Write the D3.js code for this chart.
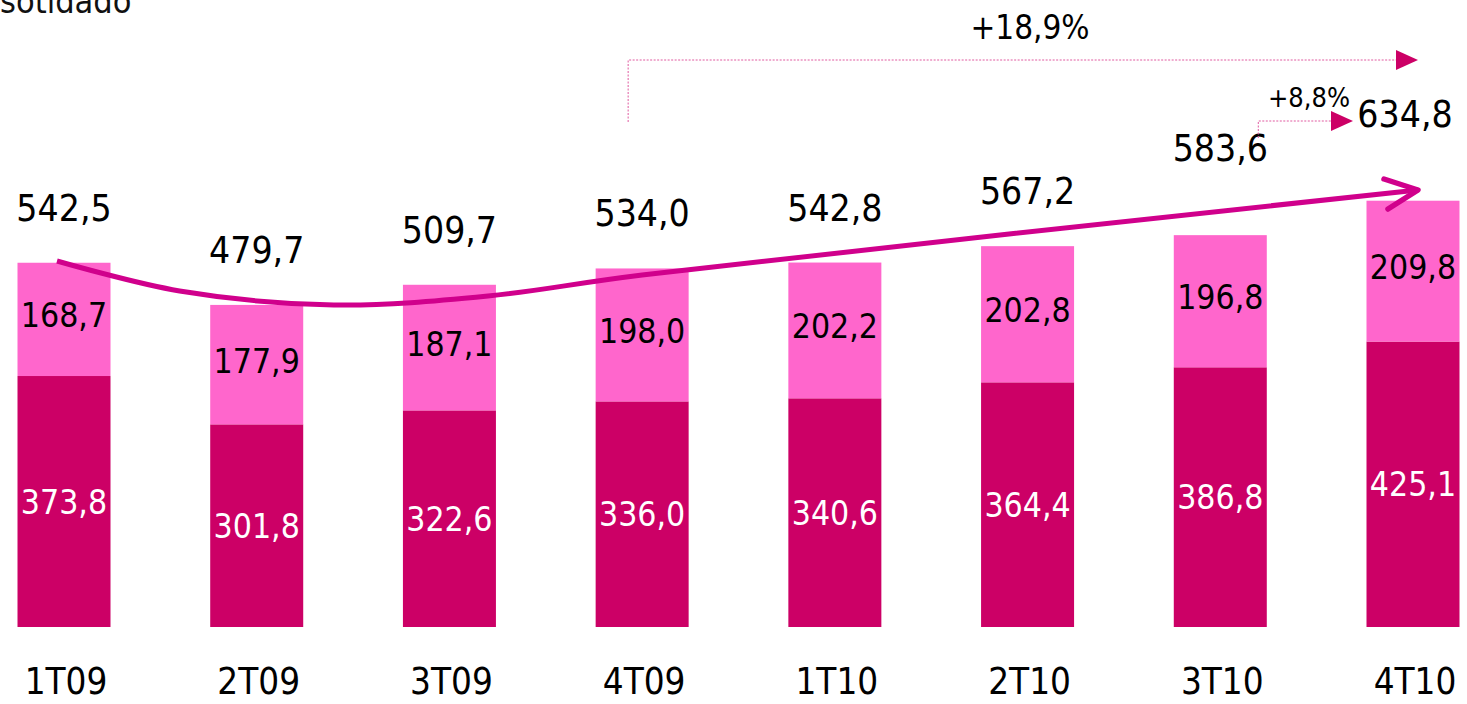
<!DOCTYPE html>
<html><head><meta charset="utf-8">
<script src="https://cdn.jsdelivr.net/npm/d3@7"></script>
<style>
html,body{margin:0;padding:0;background:#fff;overflow:hidden}
text{font-family:"DejaVu Sans Condensed","DejaVu Sans",sans-serif;font-stretch:condensed}
</style></head>
<body><svg id="c" width="1467" height="704"></svg>
<script>
const categories = ["1T09","2T09","3T09","4T09","1T10","2T10","3T10","4T10"];
const bottomValues = [373.8,301.8,322.6,336.0,340.6,364.4,386.8,425.1];
const topValues = [168.7,177.9,187.1,198.0,202.2,202.8,196.8,209.8];
const totalValues = [542.5,479.7,509.7,534.0,542.8,567.2,583.6,634.8];
const growthLabels = ["+18,9%","+8,8%"];
const titleText = "sotidado";

const fmt = v => d3.format(".1f")(v).replace(".", ",");
const svg = d3.select("#c");
const x = d3.scalePoint().domain(categories).range([64, 1413]);
const y = d3.scaleLinear().domain([0, 700]).range([627, 157]);
const bw = 93;
const dark = "#CC0066", pink = "#FF66CC", curveCol = "#D0008C";

// title fragment
svg.append("text").attr("x", 0).attr("y", 13).attr("font-size", 34).attr("fill", "#111").text(titleText);

// bars
const g = svg.append("g");
categories.forEach((c, i) => {
  const cx = x(c);
  const b = bottomValues[i], t = topValues[i];
  g.append("rect").attr("x", cx - bw/2).attr("width", bw)
    .attr("y", y(b)).attr("height", y(0) - y(b)).attr("fill", dark);
  g.append("rect").attr("x", cx - bw/2).attr("width", bw)
    .attr("y", y(b + t)).attr("height", y(b) - y(b + t)).attr("fill", pink);
  g.append("text").attr("x", cx).attr("y", (y(0) + y(b)) / 2 + 12)
    .attr("text-anchor", "middle").attr("font-size", 33.5).attr("fill", "#fff").text(fmt(b));
  g.append("text").attr("x", cx).attr("y", (y(b) + y(b + t)) / 2 + 8)
    .attr("text-anchor", "middle").attr("font-size", 33.5).attr("fill", "#000").text(fmt(t));
  const lift = i >= 6 ? 74 : 42;
  g.append("text").attr("x", cx + (i === 7 ? -8 : 0)).attr("y", y(totalValues[i]) - lift)
    .attr("text-anchor", "middle").attr("font-size", 37).attr("fill", "#000").text(fmt(totalValues[i]));
  g.append("text").attr("x", cx + 2).attr("y", 694)
    .attr("text-anchor", "middle").attr("font-size", 36.5).attr("fill", "#000").text(c);
});

// trend curve
const p0 = x(categories[0]), step = x.step();
const pts = [[p0 - 7, 261],[p0 + 0.6*step, 291],[p0 + 1.4*step, 305],[p0 + 2.2*step, 296],[p0 + 3*step, 275],[p0 + 7*step + 5, 190]];
svg.append("path").attr("d", d3.line().curve(d3.curveCatmullRom.alpha(0.5))(pts))
  .attr("fill", "none").attr("stroke", curveCol).attr("stroke-width", 5);
const end = pts[pts.length - 1];
svg.append("path").attr("d", `M${end[0]-34},${end[1]-11}L${end[0]},${end[1]}L${end[0]-30},${end[1]+19}`)
  .attr("fill", "none").attr("stroke", curveCol).attr("stroke-width", 5.5).attr("stroke-linecap", "round").attr("stroke-linejoin", "round");

// growth arrows
function growth(xs, yBottom, yLine, xEnd, label, lx, ly, fs) {
  svg.append("path").attr("d", `M${xs},${yBottom}V${yLine}H${xEnd}`)
    .attr("fill", "none").attr("stroke", "#E05AA0").attr("stroke-width", 1).attr("stroke-dasharray", "2,1.5");
  svg.append("path").attr("d", `M${xEnd},${yLine-10}L${xEnd+22},${yLine}L${xEnd},${yLine+10}Z`).attr("fill", dark);
  svg.append("text").attr("x", lx).attr("y", ly).attr("text-anchor", "middle").attr("font-size", fs).attr("fill", "#000").text(label);
}
growth(x("4T09") - 14, 122, 60, 1396, growthLabels[0], 1030, 39, 33);
growth(x("3T10") + 38, 138, 121, 1331, growthLabels[1], 1309, 107, 27);
</script></body></html>
